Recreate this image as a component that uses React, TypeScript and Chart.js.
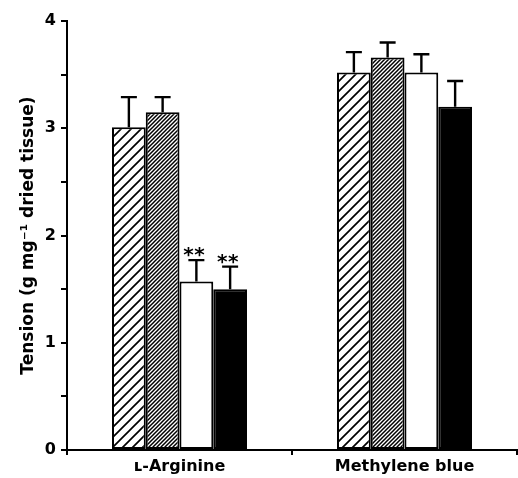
import React, { useEffect, useRef } from "react";
import { Chart, registerables } from "chart.js";

Chart.register(...registerables);

const categories = ["ʟ-Arginine", "Methylene blue"];
const seriesSparse = [3.01, 3.52];
const errSparse = [0.28, 0.19];
const seriesDense = [3.15, 3.66];
const errDense = [0.14, 0.14];
const seriesWhite = [1.57, 3.52];
const errWhite = [0.2, 0.17];
const seriesBlack = [1.5, 3.2];
const errBlack = [0.21, 0.24];
const marksWhite = ["**", ""];
const marksBlack = ["**", ""];
const yTicks = [0, 1, 2, 3, 4];

function makeHatch(size: number, lw: number): CanvasPattern | string {
  const c = document.createElement("canvas");
  c.width = size;
  c.height = size;
  const g = c.getContext("2d");
  if (!g) return "#fff";
  g.fillStyle = "#fff";
  g.fillRect(0, 0, size, size);
  g.strokeStyle = "#000";
  g.lineWidth = lw;
  g.beginPath();
  g.moveTo(-1, size + 1);
  g.lineTo(size + 1, -1);
  g.moveTo(-1, 1);
  g.lineTo(1, -1);
  g.moveTo(size - 1, size + 1);
  g.lineTo(size + 1, size - 1);
  g.stroke();
  const p = g.createPattern(c, "repeat");
  return p || "#fff";
}

const FONT = "'DejaVu Sans', 'Liberation Sans', Arial, sans-serif";

export default function App() {
  const ref = useRef<HTMLCanvasElement | null>(null);
  useEffect(() => {
    document.body.style.margin = "0";
    if (!ref.current) return;
    const errs = [errSparse, errDense, errWhite, errBlack];
    const marks: string[][] = [["", ""], ["", ""], marksWhite, marksBlack];
    const errorPlugin = {
      id: "errbars",
      afterDatasetsDraw(chart: any) {
        const ctx = chart.ctx;
        const ys = chart.scales.y;
        ctx.save();
        ctx.strokeStyle = "#000";
        ctx.lineWidth = 2.4;
        chart.data.datasets.forEach((ds: any, i: number) => {
          const meta = chart.getDatasetMeta(i);
          meta.data.forEach((bar: any, j: number) => {
            const v = ds.data[j] + errs[i][j];
            const yt = ys.getPixelForValue(v);
            ctx.beginPath();
            ctx.moveTo(bar.x, bar.y);
            ctx.lineTo(bar.x, yt);
            ctx.moveTo(bar.x - 8, yt);
            ctx.lineTo(bar.x + 8, yt);
            ctx.stroke();
            const m = marks[i][j];
            if (m) {
              ctx.fillStyle = "#000";
              ctx.font = `bold 20px ${FONT}`;
              ctx.textAlign = "center";
              ctx.textBaseline = "alphabetic";
              const mt = ctx.measureText("*");
              const base = yt - 3 - mt.actualBoundingBoxDescent;
              const chars = m.split("");
              chars.forEach((ch, k) => {
                const cx = bar.x - 2.5 + (k - (chars.length - 1) / 2) * 11;
                ctx.fillText(ch, cx, base);
              });
            }
          });
        });
        ctx.restore();
      },
    };
    const sparse = makeHatch(10, 1.7);
    const dense = makeHatch(4, 1.5);
    const common = { borderColor: "#000", borderWidth: 2, borderSkipped: false as any };
    const chart = new Chart(ref.current, {
      type: "bar",
      data: {
        labels: categories,
        datasets: [
          { data: seriesSparse, backgroundColor: sparse as any, ...common },
          { data: seriesDense, backgroundColor: dense as any, ...common },
          { data: seriesWhite, backgroundColor: "#fff", ...common },
          { data: seriesBlack, backgroundColor: "#000", ...common },
        ],
      },
      options: {
        animation: false,
        responsive: false,
        devicePixelRatio: 1,
        layout: { padding: { top: 21, right: 1, left: 0, bottom: 0 } },
        plugins: { legend: { display: false }, tooltip: { enabled: false } },
        datasets: { bar: { barPercentage: 1, categoryPercentage: 0.6 } },
        scales: {
          x: {
            offset: true,
            grid: {
              display: true,
              offset: true,
              drawOnChartArea: false,
              drawTicks: true,
              tickLength: 5,
              color: "#000",
              lineWidth: 2,
            },
            border: { display: true, color: "#000", width: 2 },
            ticks: {
              color: "#000",
              font: { family: FONT, size: 16, weight: "bold" },
              padding: 2,
            },
            afterFit: (s: any) => {
              s.height = 28;
            },
          },
          y: {
            min: 0,
            max: 4,
            afterBuildTicks: (s: any) => {
              const t: any[] = [];
              yTicks.forEach((v, k) => {
                t.push({ value: v });
                if (k < yTicks.length - 1) t.push({ value: v + 0.5 });
              });
              s.ticks = t;
            },
            grid: {
              display: true,
              drawOnChartArea: false,
              drawTicks: true,
              tickLength: 6,
              color: "#000",
              lineWidth: 2,
            },
            border: { display: true, color: "#000", width: 2 },
            ticks: {
              color: "#000",
              font: { family: FONT, size: 16, weight: "bold" },
              padding: 5,
              callback: (v: any) => (Number.isInteger(Number(v)) ? String(v) : ""),
            },
            title: {
              display: true,
              text: "Tension (g mg⁻¹ dried tissue)",
              color: "#000",
              font: { family: FONT, size: 17, weight: "bold" },
              padding: { top: 18, bottom: 0 },
            },
            afterFit: (s: any) => {
              s.width = 67;
            },
          },
        },
      },
      plugins: [errorPlugin],
    });
    return () => chart.destroy();
  }, []);
  return (
    <div style={{ width: 518, height: 478 }}>
      <canvas ref={ref} width={518} height={478} style={{ display: "block" }} />
    </div>
  );
}
